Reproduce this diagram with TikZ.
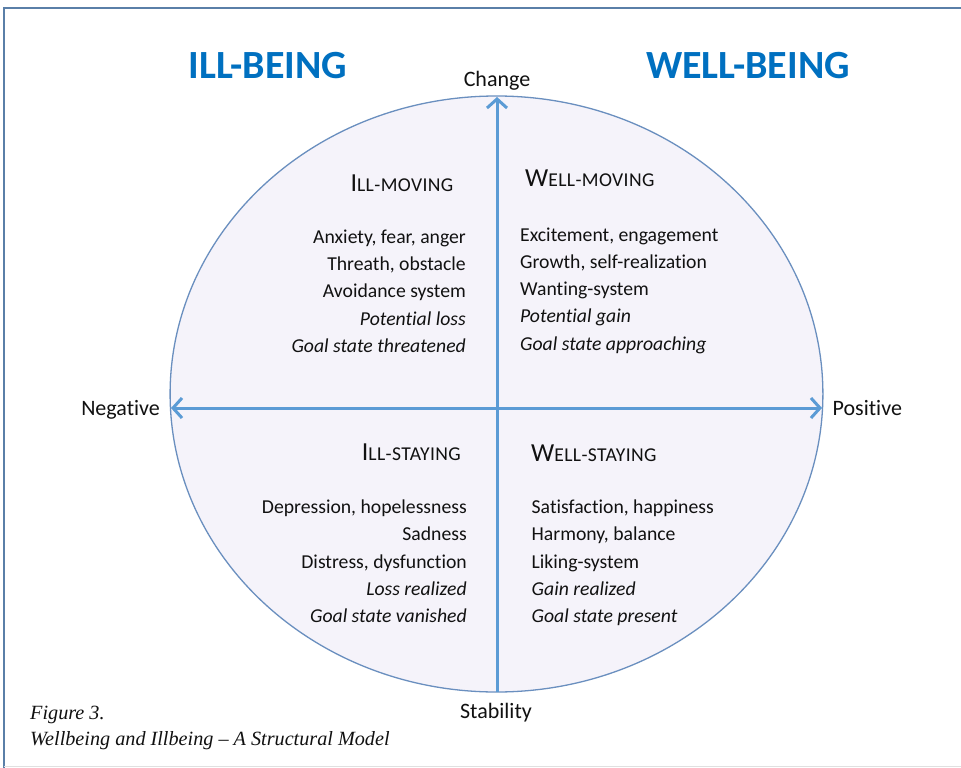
\documentclass[tikz,border=0pt]{standalone}
\usepackage{fontspec}
\setmainfont[Ligatures={TeX,NoCommon}]{Carlito}
\newfontfamily\capfont[Ligatures=TeX]{Liberation Serif}
\usetikzlibrary{arrows.meta,shapes.geometric}
\definecolor{titleblue}{HTML}{0070C0}
\definecolor{axisblue}{HTML}{5B9BD5}
\definecolor{ovalline}{HTML}{6A8FBF}
\definecolor{ovalfill}{HTML}{F5F3FA}
\definecolor{framecol}{HTML}{5A7FA8}
\definecolor{txt}{HTML}{111111}
\newcommand\mysc[2]{{\fontsize{26}{30}\selectfont #1}{\fontsize{19.6}{22}\selectfont\addfontfeatures{LetterSpace=2}#2}}
\tikzset{
  bodytxt/.style={font=\fontsize{19.7}{23}\selectfont, inner sep=0, text=txt},
  headtxt/.style={inner sep=0, text=txt},
  axislbl/.style={font=\fontsize{22}{25}\selectfont, inner sep=0, text=txt},
  titletxt/.style={font=\fontsize{40}{46}\selectfont\bfseries, inner sep=0, text=titleblue},
  axisarrow/.style={draw=axisblue, line width=3pt, -{Straight Barb[length=9pt,width=20pt]}},
  twoarrow/.style={draw=axisblue, line width=3pt, {Straight Barb[length=9pt,width=20pt]}-{Straight Barb[length=9pt,width=20pt]}},
  captxt/.style={font=\capfont\itshape\fontsize{20.2}{24}\selectfont, inner sep=0, text=txt}
}
\begin{document}
\begin{tikzpicture}[x=1pt,y=-1pt]
\useasboundingbox (0,0) rectangle (961,768);
\fill[white] (0,0) rectangle (961,768);
% frame
\draw[framecol, line width=2pt] (4,768) -- (4,8) -- (961,8);
\draw[black!12, line width=1pt] (4,766.5) -- (961,766.5);
% oval
\node[ellipse, draw=ovalline, fill=ovalfill, line width=1.3pt, minimum width=652.8pt, minimum height=596pt, inner sep=0] (oval) at (496.5,394) {};
% axis end points
\coordinate (vbot) at (497,692);
\coordinate (vtop) at (497,97);
\coordinate (hleft) at (171,408);
\coordinate (hright) at (822,408);
\draw[axisarrow] (vbot) -- (vtop);
\draw[twoarrow] (hleft) -- (hright);
% titles
\node[titletxt, anchor=base] (ill) at (268,78) {ILL-BEING};
\node[titletxt, anchor=base] (well) at (748,78) {WELL-BEING};
% axis labels
\node[axislbl, anchor=base] (change) at (497,86) {Change};
\node[axislbl, anchor=base] (stab) at (496,718) {Stability};
\node[axislbl, anchor=base east] (neg) at (160,415) {Negative};
\node[axislbl, anchor=base west] (pos) at (832.5,415) {Positive};
% headings
\node[headtxt, anchor=base east] (hilm) at (453.5,191.7) {\mysc{I}{LL-MOVING}};
\node[headtxt, anchor=base west] (hwem) at (525,186.7) {\mysc{W}{ELL-MOVING}};
\node[headtxt, anchor=base east] (hils) at (461,460) {\mysc{I}{LL-STAYING}};
\node[headtxt, anchor=base west] (hwes) at (531,461.5) {\mysc{W}{ELL-STAYING}};
% ill-moving
\node[bodytxt, anchor=base east] (a1) at (466,243.3) {Anxiety, fear, anger};
\node[bodytxt, anchor=base east] (a2) at (466,270.6) {Threath, obstacle};
\node[bodytxt, anchor=base east] (a3) at (466,297.9) {Avoidance system};
\node[bodytxt, anchor=base east] (a4) at (466,325.2) {\itshape Potential loss};
\node[bodytxt, anchor=base east] (a5) at (466,352.5) {\itshape Goal state threatened};
% well-moving
\node[bodytxt, anchor=base west] (b1) at (520,241) {Excitement, engagement};
\node[bodytxt, anchor=base west] (b2) at (520,268.3) {Growth, self-realization};
\node[bodytxt, anchor=base west] (b3) at (520,295.6) {Wanting-system};
\node[bodytxt, anchor=base west] (b4) at (520,322.9) {\itshape Potential gain};
\node[bodytxt, anchor=base west] (b5) at (520,350.2) {\itshape Goal state approaching};
% ill-staying
\node[bodytxt, anchor=base east] (c1) at (467,513.3) {Depression, hopelessness};
\node[bodytxt, anchor=base east] (c2) at (467,540.7) {Sadness};
\node[bodytxt, anchor=base east] (c3) at (467,568.1) {Distress, dysfunction};
\node[bodytxt, anchor=base east] (c4) at (467,595.5) {\itshape Loss realized};
\node[bodytxt, anchor=base east] (c5) at (467,622.9) {\itshape Goal state vanished};
% well-staying
\node[bodytxt, anchor=base west] (d1) at (531.5,513.3) {Satisfaction, happiness};
\node[bodytxt, anchor=base west] (d2) at (531.5,540.7) {Harmony, balance};
\node[bodytxt, anchor=base west] (d3) at (531.5,568.1) {Liking-system};
\node[bodytxt, anchor=base west] (d4) at (531.5,595.5) {\itshape Gain realized};
\node[bodytxt, anchor=base west] (d5) at (531.5,622.9) {\itshape Goal state present};
% caption
\node[captxt, anchor=base west] (fig) at (30,719) {Figure 3.};
\node[captxt, anchor=base west] (figt) at (30,745) {Wellbeing and Illbeing – A Structural Model};
\end{tikzpicture}
\end{document}
